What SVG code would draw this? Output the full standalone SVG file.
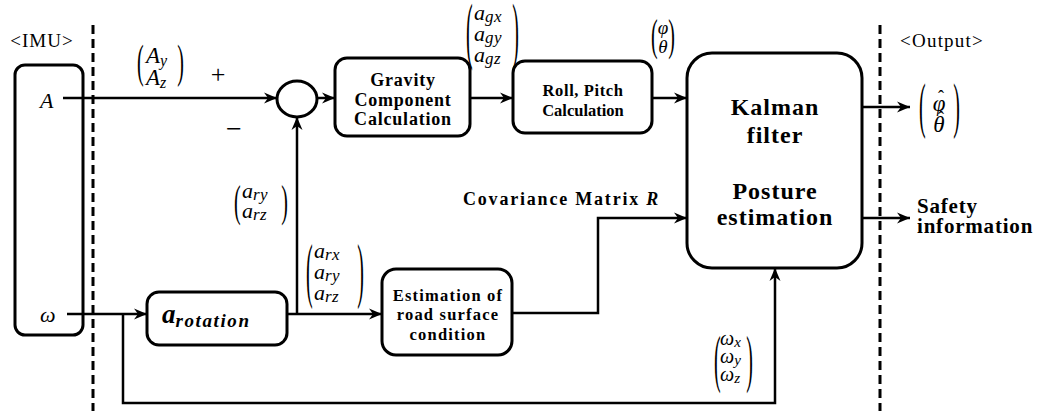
<svg xmlns="http://www.w3.org/2000/svg" width="1043" height="418" viewBox="0 0 1043 418">
<defs>
<marker id="ah" markerUnits="userSpaceOnUse" markerWidth="14" markerHeight="12" refX="13" refY="6" orient="auto">
<path d="M0,0.5 L13,6 L0,11.5 L4,6 Z" fill="#000"/>
</marker>
<style>
text{font-family:'Liberation Serif','Times New Roman','DejaVu Serif',serif;fill:#000}
.box{fill:#fff;stroke:#000;stroke-width:3}
.ln{fill:none;stroke:#000;stroke-width:2.5}
.dash{stroke:#000;stroke-width:3;stroke-dasharray:9 5}
.bt{font-weight:bold;text-anchor:middle}
.bs{font-weight:bold}
.m{font-style:italic}
.p{font-size:20px}
.pr{font-size:20px;text-anchor:end}
.s{letter-spacing:0.5px}
</style>
</defs>
<rect width="1043" height="418" fill="#fff"/>

<g id="separators">
<line class="dash" x1="93" y1="25" x2="93" y2="411"/>
<line class="dash" x1="880" y1="25" x2="880" y2="411"/>
<text x="42" y="47" font-size="19" letter-spacing="1" text-anchor="middle">&lt;IMU&gt;</text>
<text x="942" y="47" font-size="19" letter-spacing="1.2" text-anchor="middle">&lt;Output&gt;</text>
</g>

<g id="imu">
<rect class="box" x="15" y="65" width="68" height="270" rx="10"/>
<text class="m" x="40" y="108" font-size="22">A</text>
<text class="m" x="40" y="322" font-size="22">ω</text>
</g>

<g id="sum">
<ellipse class="box" cx="297" cy="99" rx="20" ry="18"/>
</g>

<g id="gravity">
<rect class="box" x="335" y="58" width="135" height="78" rx="12"/>
<text class="bt" x="403" y="86" font-size="18" letter-spacing="0.8">Gravity</text>
<text class="bt" x="403" y="106" font-size="18" letter-spacing="0.8">Component</text>
<text class="bt" x="403" y="125" font-size="18" letter-spacing="0.8">Calculation</text>
</g>

<g id="rollpitch">
<rect class="box" x="513" y="61" width="139" height="72" rx="12"/>
<text class="bt" x="583" y="96" font-size="16.5" letter-spacing="0.6">Roll, Pitch</text>
<text class="bt" x="583" y="116" font-size="16.5">Calculation</text>
</g>

<g id="kalman">
<rect class="box" x="687" y="53" width="175" height="215" rx="25"/>
<text class="bt" x="775" y="115" font-size="24" letter-spacing="1">Kalman</text>
<text class="bt" x="775" y="143" font-size="24" letter-spacing="1">filter</text>
<text class="bt" x="775" y="199" font-size="24" letter-spacing="1">Posture</text>
<text class="bt" x="775" y="225" font-size="24" letter-spacing="1">estimation</text>
</g>

<g id="arotation">
<rect class="box" x="147" y="292" width="140" height="53" rx="12"/>
<text class="m bs" x="162" y="323"><tspan font-size="27">a</tspan><tspan font-size="19" dy="4" letter-spacing="1.6">rotation</tspan></text>
</g>

<g id="estimation">
<rect class="box" x="382" y="269" width="130" height="86" rx="14"/>
<text class="bt" x="448" y="301" font-size="16.5" letter-spacing="1.2">Estimation of</text>
<text class="bt" x="448" y="320" font-size="16.5" letter-spacing="1.2">road surface</text>
<text class="bt" x="448" y="340" font-size="16.5" letter-spacing="1.2">condition</text>
</g>

<g id="outputs">
<text class="bs" x="917" y="213" font-size="21" letter-spacing="0.8">Safety</text>
<text class="bs" x="917" y="233" font-size="21" letter-spacing="0.8">information</text>
</g>

<g id="connectors">
<path class="ln" d="M63,98 H277" marker-end="url(#ah)"/>
<path class="ln" d="M317,98 H335" marker-end="url(#ah)"/>
<path class="ln" d="M470,98 H513" marker-end="url(#ah)"/>
<path class="ln" d="M652,98 H687" marker-end="url(#ah)"/>
<path class="ln" d="M862,107 H910" marker-end="url(#ah)"/>
<path class="ln" d="M862,218 H910" marker-end="url(#ah)"/>
<path class="ln" d="M67,314 H147" marker-end="url(#ah)"/>
<path class="ln" d="M123,314 V403 H775 V268" marker-end="url(#ah)"/>
<path class="ln" d="M287,314 H382" marker-end="url(#ah)"/>
<path class="ln" d="M297,314 V117" marker-end="url(#ah)"/>
<path class="ln" d="M512,313 H598 V218 H687" marker-end="url(#ah)"/>
</g>

<g id="labels">
<text x="218" y="83" font-size="26" text-anchor="middle">+</text>
<text x="234" y="138" font-size="28" text-anchor="middle">−</text>
<text class="bs" x="463" y="205" font-size="18" letter-spacing="1.8">Covariance Matrix <tspan font-style="italic">R</tspan></text>

<text class="p" transform="translate(137,77) scale(1,2.37)">(</text>
<text class="pr" transform="translate(184,77) scale(1,2.37)">)</text>
<text class="m" x="146" y="63" font-size="23">A<tspan class="s" font-size="16" dy="3">y</tspan></text>
<text class="m" x="146" y="85" font-size="23">A<tspan class="s" font-size="16" dy="3">z</tspan></text>

<text class="p" transform="translate(466,55.2) scale(1,3.69)">(</text>
<text class="pr" transform="translate(519,55.2) scale(1,3.69)">)</text>
<text class="m" x="474" y="20" font-size="22">a<tspan class="s" font-size="17" dy="2">gx</tspan></text>
<text class="m" x="474" y="41" font-size="22">a<tspan class="s" font-size="17" dy="2">gy</tspan></text>
<text class="m" x="474" y="62" font-size="22">a<tspan class="s" font-size="17" dy="2">gz</tspan></text>

<text class="p" transform="translate(651,49.5) scale(1,2.2)">(</text>
<text class="pr" transform="translate(675,49.5) scale(1,2.2)">)</text>
<text class="m" x="663" y="34" font-size="19" text-anchor="middle">φ</text>
<text class="m" x="663" y="53" font-size="19" text-anchor="middle">θ</text>

<text class="p" transform="translate(919,126) scale(1,3.03)">(</text>
<text class="pr" transform="translate(960,126) scale(1,3.03)">)</text>
<text x="941" y="103" font-size="18" text-anchor="middle">ˆ</text>
<text class="m" x="939" y="111" font-size="23" text-anchor="middle">φ</text>
<text x="941" y="124" font-size="18" text-anchor="middle">ˆ</text>
<text class="m" x="939" y="132" font-size="23" text-anchor="middle">θ</text>

<text class="p" transform="translate(234,215.5) scale(1,2.2)">(</text>
<text class="pr" transform="translate(288,215.5) scale(1,2.2)">)</text>
<text class="m" x="242" y="198" font-size="22">a<tspan class="s" font-size="17" dy="2">ry</tspan></text>
<text class="m" x="242" y="218" font-size="22">a<tspan class="s" font-size="17" dy="2">rz</tspan></text>

<text class="p" transform="translate(306,294.4) scale(1,3.63)">(</text>
<text class="pr" transform="translate(364,294.4) scale(1,3.63)">)</text>
<text class="m" x="314" y="258" font-size="22">a<tspan class="s" font-size="17" dy="2">rx</tspan></text>
<text class="m" x="314" y="279" font-size="22">a<tspan class="s" font-size="17" dy="2">ry</tspan></text>
<text class="m" x="314" y="300" font-size="22">a<tspan class="s" font-size="17" dy="2">rz</tspan></text>

<text class="p" transform="translate(714,379.5) scale(1,3.14)">(</text>
<text class="pr" transform="translate(753,379.5) scale(1,3.14)">)</text>
<text class="m" x="720" y="345" font-size="20">ω<tspan class="s" font-size="15" dy="2">x</tspan></text>
<text class="m" x="720" y="363" font-size="20">ω<tspan class="s" font-size="15" dy="2">y</tspan></text>
<text class="m" x="720" y="381" font-size="20">ω<tspan class="s" font-size="15" dy="2">z</tspan></text>
</g>
</svg>
